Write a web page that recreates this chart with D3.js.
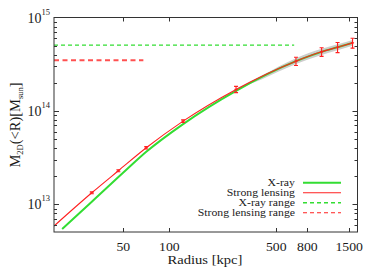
<!DOCTYPE html>
<html>
<head>
<meta charset="utf-8">
<script src="https://cdn.jsdelivr.net/npm/d3@7"></script>
<style>
html,body{margin:0;padding:0;background:#fff;}
</style>
</head>
<body>
<svg id="c" width="374" height="267"></svg>
<script>
// ---- data ----
const xrayRadius = [19.9, 31.1, 52.1, 70.6, 123, 273, 673, 990, 1259, 1578];
const xrayMass   = [5.45e12, 1.066e13, 2.33e13, 3.65e13, 7.23e13, 1.64e14, 3.41e14, 4.29e14, 4.81e14, 5.35e14];
const bandRadius = [270, 400, 673, 990, 1259, 1578];
const bandLow    = [1.68e14, 2.17e14, 3.17e14, 3.98e14, 4.47e14, 4.97e14];
const bandHigh   = [1.72e14, 2.39e14, 3.67e14, 4.62e14, 5.18e14, 5.76e14];
const lensLineRadius = [17.6, 31.1, 46.4, 70.6, 123, 273, 673, 990, 1259, 1578];
const lensLineMass   = [5.86e12, 1.33e13, 2.29e13, 4.03e13, 7.78e13, 1.70e14, 3.41e14, 4.29e14, 4.81e14, 5.35e14];
const lensPtRadius = [31.1, 46.4, 70.6, 123, 273, 673, 990, 1259, 1578];
const lensPtMass   = [1.33e13, 2.29e13, 4.03e13, 7.78e13, 1.70e14, 3.41e14, 4.29e14, 4.81e14, 5.35e14];
const lensPtErr    = [0.03e13, 0.06e13, 0.12e13, 0.25e13, 0.13e14, 0.35e14, 0.45e14, 0.6e14, 0.65e14];
const xrayRange = {mass: 5.06e14, rmax: 655};
const lensRange = {mass: 3.49e14, rmax: 67.6};
const xTicks = [50, 100, 500, 800, 1500];
const yMajor = [13, 14, 15];
const legendLabels = ["X-ray", "Strong lensing", "X-ray range", "Strong lensing range"];

// ---- layout ----
const L = 54, R = 357.5, T = 17.5, B = 232;
const x = d3.scaleLog().domain([17.6, 1700]).range([L, R]);
const y = d3.scaleLog().domain([5.06e12, 1e15]).range([B, T]);
const svg = d3.select("#c");
const GREEN = "#33dd33", RED = "#ff2020", TXT = "#1a1a1a";
const FONT = '"Liberation Serif"';

function txt(parent) {
  return parent.append("text").style("font-family", FONT).attr("fill", TXT);
}
function stretch(sel, f) {
  const w = sel.node().getComputedTextLength();
  sel.attr("textLength", w * f).attr("lengthAdjust", "spacingAndGlyphs");
}

// clip
svg.append("clipPath").attr("id","clip").append("rect").attr("x",L).attr("y",T).attr("width",R-L).attr("height",B-T);
const g = svg.append("g").attr("clip-path","url(#clip)");

// ranges (dashed)
g.append("line").attr("x1", L).attr("x2", x(xrayRange.rmax)).attr("y1", y(xrayRange.mass)).attr("y2", y(xrayRange.mass))
 .attr("stroke", GREEN).attr("stroke-width", 1.2).attr("stroke-dasharray","4,3");
g.append("line").attr("x1", L).attr("x2", x(lensRange.rmax)).attr("y1", y(lensRange.mass)).attr("y2", y(lensRange.mass))
 .attr("stroke", "#ff5050").attr("stroke-width", 2).attr("stroke-dasharray","5,3.5");

// band
const bandData = bandRadius.map((r,i)=>({r, lo: bandLow[i], hi: bandHigh[i]}));
g.append("path").datum(bandData)
 .attr("d", d3.area().x(d=>x(d.r)).y0(d=>y(d.lo)).y1(d=>y(d.hi)).curve(d3.curveMonotoneX))
 .attr("fill", "#c4c4c4").attr("opacity", 0.85);

// x-ray line
g.append("path").datum(xrayRadius.map((r,i)=>[r, xrayMass[i]]))
 .attr("d", d3.line().x(d=>x(d[0])).y(d=>y(d[1])).curve(d3.curveMonotoneX))
 .attr("fill","none").attr("stroke", GREEN).attr("stroke-width", 2);

// lensing line
g.append("path").datum(lensLineRadius.map((r,i)=>[r, lensLineMass[i]]))
 .attr("d", d3.line().x(d=>x(d[0])).y(d=>y(d[1])).curve(d3.curveMonotoneX))
 .attr("fill","none").attr("stroke", RED).attr("stroke-width", 1.1);

// error bars
const eb = g.append("g").attr("stroke", RED).attr("stroke-width", 1.1);
lensPtRadius.forEach((r,i)=>{
  const cx = x(r), m = lensPtMass[i], e = lensPtErr[i];
  const y1 = y(m+e), y2 = y(m-e);
  eb.append("line").attr("x1",cx).attr("x2",cx).attr("y1",y1).attr("y2",y2);
  eb.append("line").attr("x1",cx-2).attr("x2",cx+2).attr("y1",y1).attr("y2",y1);
  eb.append("line").attr("x1",cx-2).attr("x2",cx+2).attr("y1",y2).attr("y2",y2);
  eb.append("line").attr("x1",cx-1.5).attr("x2",cx+1.5).attr("y1",y(m)).attr("y2",y(m));
});

// axes frame
const ax = svg.append("g").attr("stroke","#333").attr("stroke-width",1);
ax.append("rect").attr("x",L).attr("y",T).attr("width",R-L).attr("height",B-T).attr("fill","none");

// x ticks
xTicks.forEach(v=>{
  const px = Math.round(x(v))+0.5;
  ax.append("line").attr("x1",px).attr("x2",px).attr("y1",B).attr("y2",B-4);
  ax.append("line").attr("x1",px).attr("x2",px).attr("y1",T).attr("y2",T+4);
  const t = txt(svg).attr("x", x(v)).attr("y", 250.5).attr("text-anchor","middle")
    .attr("font-size", 12.5).text(v);
  stretch(t, 1.1);
});

// y ticks
for (let e = 12; e <= 14; e++) {
  for (let k = 1; k <= 9; k++) {
    const v = k * Math.pow(10, e);
    if (v < y.domain()[0] || v > y.domain()[1]) continue;
    const py = Math.round(y(v))+0.5;
    const len = k === 1 ? 5 : 3;
    ax.append("line").attr("x1",L).attr("x2",L+len).attr("y1",py).attr("y2",py);
    ax.append("line").attr("x1",R).attr("x2",R-len).attr("y1",py).attr("y2",py);
  }
}
ax.append("line").attr("x1",L).attr("x2",L+5).attr("y1",y(1e15)).attr("y2",y(1e15));
ax.append("line").attr("x1",R).attr("x2",R-5).attr("y1",y(1e15)).attr("y2",y(1e15));

yMajor.forEach(e=>{
  const py = y(Math.pow(10,e));
  const t = txt(svg).attr("x", 50).attr("y", py+5).attr("text-anchor","end").attr("font-size",14);
  t.append("tspan").text("10");
  t.append("tspan").attr("font-size",8.5).attr("dy",-8).text(e);
});

// axis titles
const xt = txt(svg).attr("x", 205).attr("y", 264).attr("text-anchor","middle").attr("font-size",13.5).text("Radius [kpc]");
stretch(xt, 1.08);
const yt = txt(svg).attr("transform","translate(20,125) rotate(-90)").attr("text-anchor","middle").attr("font-size",14.5);
yt.append("tspan").text("M");
yt.append("tspan").attr("font-size",8.5).attr("dy",3).text("2D");
yt.append("tspan").attr("dy",-3).text("(<R)[M");
yt.append("tspan").attr("font-size",8.5).attr("dy",3).text("sun");
yt.append("tspan").attr("dy",-3).text("]");

// legend
const legStyles = [
  {stroke: GREEN, w: 2, dash: null},
  {stroke: RED, w: 1.1, dash: null},
  {stroke: GREEN, w: 1.6, dash: "4,3"},
  {stroke: RED, w: 1.1, dash: "4,3"}
];
legendLabels.forEach((lab,i)=>{
  const cy = 182.7 + i*10;
  const t = txt(svg).attr("x", 295).attr("y", cy+3.5).attr("text-anchor","end").attr("font-size",10.5).text(lab);
  stretch(t, 1.12);
  const ln = svg.append("line").attr("x1",303).attr("x2",341).attr("y1",cy).attr("y2",cy)
    .attr("stroke", legStyles[i].stroke).attr("stroke-width", legStyles[i].w);
  if (legStyles[i].dash) ln.attr("stroke-dasharray", legStyles[i].dash);
});
</script>
</body>
</html>
